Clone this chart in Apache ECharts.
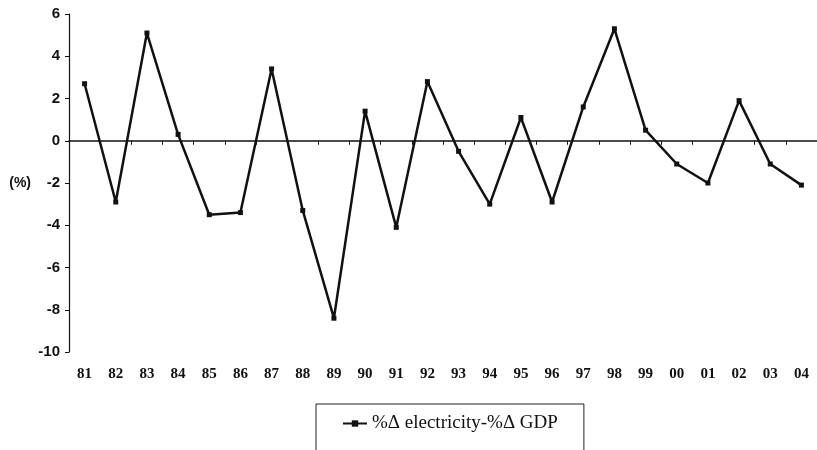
<!DOCTYPE html>
<html>
<head>
<meta charset="utf-8">
<script src="https://cdn.jsdelivr.net/npm/echarts@6/dist/echarts.min.js"></script>
<style>
html, body { margin: 0; padding: 0; background: #fff; }
#main { width: 817px; height: 450px; }
</style>
</head>
<body>
<div id="main"></div>
<script>
// years (two-digit labels)
var years = ['81', '82', '83', '84', '85', '86', '87', '88', '89', '90', '91', '92',
	'93', '94', '95', '96', '97', '98', '99', '00', '01', '02', '03', '04'];
// %Δ electricity - %Δ GDP
var diffValues = [2.7, -2.9, 5.1, 0.3, -3.5, -3.4, 3.4, -3.3, -8.4, 1.4, -4.1, 2.8,
	-0.5, -3.0, 1.1, -2.9, 1.6, 5.3, 0.5, -1.1, -2.0, 1.9, -1.1, -2.1];
var seriesName = '%\u0394 electricity-%\u0394 GDP';
var yTicks = { min: -10, max: 6, step: 2 };

var myChart = echarts.init(document.getElementById('main'));
var option = {
	animation: false,
	grid: {
		left: 69,
		top: 14,
		width: 753,
		bottom: 98
	},
	legend: {
		left: 316,
		top: 404,
		padding: [10, 26, 24, 26],
		borderColor: '#222',
		borderWidth: 1,
		itemWidth: 24,
		itemHeight: 8,
		itemGap: 3,
		textStyle: {
			fontFamily: 'Liberation Serif',
			fontSize: 19,
			color: '#111'
		},
		data: [seriesName]
	},
	xAxis: [{
		// labels at the bottom
		type: 'category',
		data: years,
		boundaryGap: true,
		position: 'bottom',
		axisLine: { show: false, onZero: false },
		axisTick: { show: false },
		axisLabel: {
			margin: 15,
			interval: 0,
			fontFamily: 'Liberation Serif',
			fontWeight: 'bold',
			fontSize: 15,
			color: '#111'
		},
		splitLine: { show: false }
	}, {
		// zero line with ticks
		type: 'category',
		data: years,
		boundaryGap: true,
		position: 'bottom',
		axisLine: { show: true, onZero: true, lineStyle: { color: '#111', width: 1.5 } },
		axisTick: { show: true, length: 4, interval: 0, lineStyle: { color: '#111' } },
		axisLabel: { show: false },
		splitLine: { show: false }
	}],
	yAxis: {
		type: 'value',
		min: yTicks.min,
		max: yTicks.max,
		interval: yTicks.step,
		name: '(%)',
		nameLocation: 'middle',
		nameRotate: 0,
		nameGap: 38,
		nameTextStyle: {
			fontFamily: 'Liberation Sans',
			fontWeight: 'bold',
			fontSize: 14,
			color: '#111',
			align: 'right'
		},
		axisLine: { show: true, lineStyle: { color: '#111', width: 1.2 } },
		axisTick: { show: true, length: 4, lineStyle: { color: '#111' } },
		axisLabel: {
			margin: 9,
			fontFamily: 'Liberation Sans',
			fontWeight: 'bold',
			fontSize: 15,
			color: '#111'
		},
		splitLine: { show: false }
	},
	series: [{
		name: seriesName,
		type: 'line',
		xAxisIndex: 0,
		data: diffValues,
		symbol: 'rect',
		symbolSize: 5,
		itemStyle: { color: '#111' },
		lineStyle: { color: '#111', width: 2.5 }
	}]
};
myChart.setOption(option);
</script>
</body>
</html>
